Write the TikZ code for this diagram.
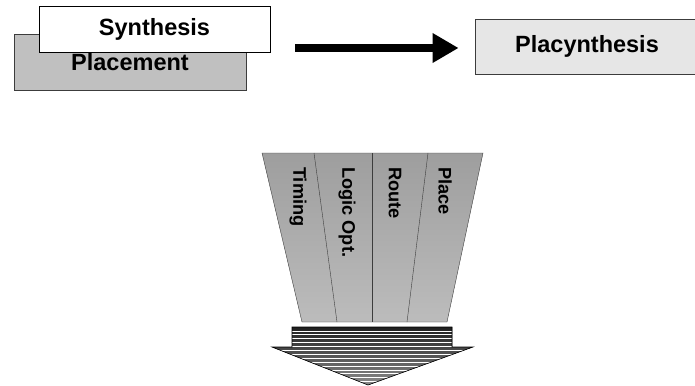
\documentclass[tikz,border=0pt]{standalone}
\usepackage{fontspec}
\setmainfont{Liberation Sans}
\usetikzlibrary{arrows.meta,positioning}
\definecolor{placegray}{RGB}{192,192,192}
\definecolor{resultbg}{RGB}{230,230,230}
\definecolor{funneltop}{RGB}{158,158,158}
\definecolor{funnelbot}{RGB}{188,188,188}
\definecolor{edgegray}{RGB}{60,60,60}

\begin{document}
\begin{tikzpicture}[x=1pt, y=-1pt,
  flowbox/.style={draw=edgegray, line width=0.8pt, inner sep=0pt,
                  font=\fontsize{23.5}{28}\selectfont\bfseries},
  vlabel/.style={rotate=-90, anchor=west, inner sep=0pt,
                 font=\fontsize{18.2}{21}\selectfont\bfseries},
  bigarr/.style={-{Triangle[length=26pt, width=28pt]}, line width=8pt, black}
]
  \useasboundingbox (0,0) rectangle (695,385);

  % two stacked boxes, then the merged one
  \node[flowbox, fill=placegray, minimum width=232pt, minimum height=56pt] (place) at (130,62) {Placement};
  \node[flowbox, fill=white, draw=black, minimum width=231pt, minimum height=46pt] (synth) at (154.5,29) {Synthesis};
  \node[flowbox, fill=resultbg, minimum width=224pt, minimum height=55pt] (placy) at (587,46.5) {Placynthesis};
  \coordinate (arrstart) at (295,48);
  \draw[bigarr, shorten >=16pt] (arrstart) -- (arrstart -| placy.west);

  % funnel
  \draw[edgegray, top color=funneltop, bottom color=funnelbot]
    (262,153) -- (483,153) -- (447,322) -- (302,322) -- cycle;
  \draw[edgegray] (314,153) -- (337,322);
  \draw[edgegray] (372,153) -- (372,322);
  \draw[edgegray] (428,153) -- (407,322);
  \node[vlabel] (timing) at (298,167) {Timing};
  \node[vlabel] (logic) at (347,167) {Logic Opt.};
  \node[vlabel] (route) at (395,167) {Route};
  \node[vlabel] (placelbl) at (445,167) {Place};

  % striped arrow below
  \begin{scope}
    \clip (292,327) -- (452,327) -- (452,347) -- (473,347) -- (368,385)
          -- (272,347) -- (292,347) -- cycle;
    \fill[top color=black!88, bottom color=black!45] (272,327) rectangle (473,385);
    \foreach \y in {331,334.9,...,386}
      \draw[white, line width=0.9pt] (272,\y) -- (473,\y);
  \end{scope}
  \draw[black, line width=0.6pt] (292,327) -- (452,327) -- (452,347) -- (473,347) -- (368,385)
          -- (272,347) -- (292,347) -- cycle;
\end{tikzpicture}
\end{document}
